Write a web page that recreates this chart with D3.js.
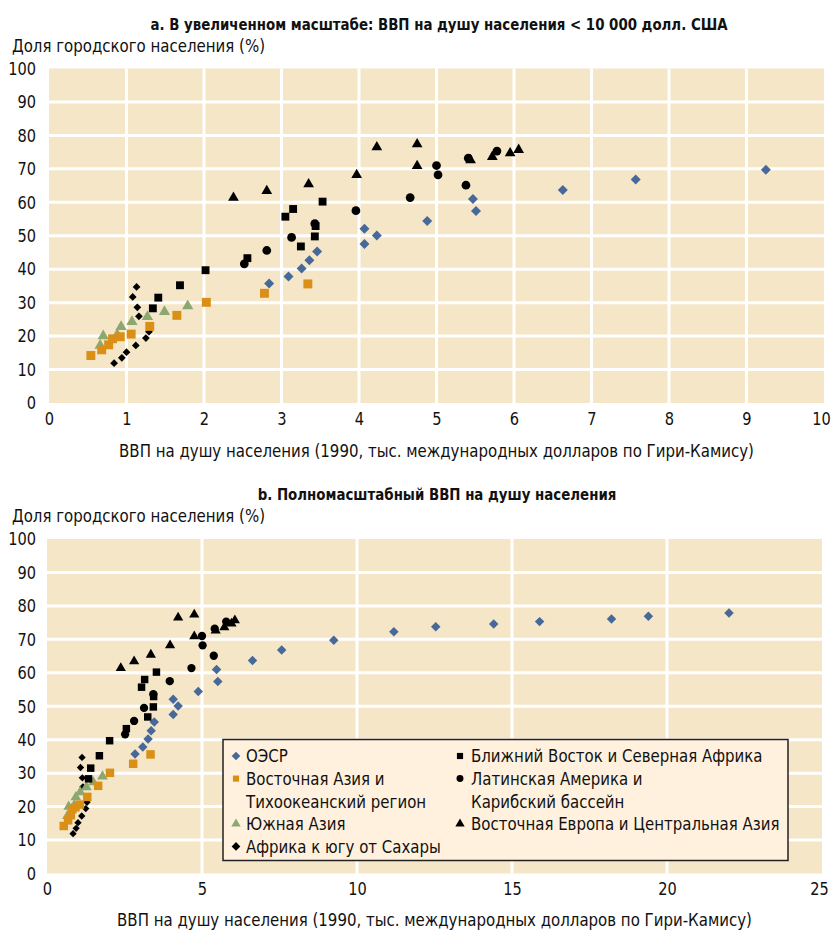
<!DOCTYPE html>
<html><head><meta charset="utf-8">
<script src="https://cdn.jsdelivr.net/npm/d3@7"></script>
<style>
body{margin:0;background:#fff}
text{font-family:"Liberation Sans Narrow","DejaVu Sans Condensed","Arial Narrow",sans-serif;fill:#111}
</style>
</head><body>
<svg id="c" width="834" height="930"></svg>
<script>
// ---- data ----
const seriesNames = ["ОЭСР","Восточная Азия и Тихоокеанский регион","Южная Азия","Африка к югу от Сахары",
  "Ближний Восток и Северная Африка","Латинская Америка и Карибский бассейн","Восточная Европа и Центральная Азия"];
const oecdGdp   = [2.84,3.09,3.26,3.36,3.46,4.07,4.07,4.23,4.88,5.47,5.51,6.63,7.57,9.25,11.19,12.54,14.41,15.89,18.21,19.40,22.0];
const oecdUrban = [35.7,37.8,40.2,42.7,45.3,47.5,52.1,50.1,54.4,61.0,57.4,63.7,66.8,69.7,72.3,73.8,74.6,75.3,76.1,76.9,77.9];
const eapGdp    = [0.54,0.68,0.77,0.82,0.92,1.06,1.30,1.65,2.03,2.78,3.34];
const eapUrban  = [14.2,15.9,17.4,19.2,19.8,20.6,22.9,26.2,30.1,32.8,35.6];
const sasGdp    = [0.66,0.70,0.88,0.93,1.07,1.27,1.49,1.79];
const sasUrban  = [17.2,20.0,20.4,22.8,24.3,25.8,27.3,29.0];
const ssaGdp    = [0.84,0.94,1.00,1.12,1.25,1.29,1.16,1.14,1.08,1.13];
const ssaUrban  = [11.9,13.5,15.2,17.2,19.4,21.3,25.9,28.6,31.7,34.7];
const menaGdp   = [1.34,1.41,1.69,2.02,2.56,3.05,3.15,3.53,3.25,3.43,3.44];
const menaUrban = [28.3,31.5,35.2,39.7,43.3,55.7,58.0,60.2,46.8,49.8,52.9];
const lacGdp    = [2.52,2.81,3.13,3.43,3.96,4.66,5.02,5.00,5.38,5.41,5.78];
const lacUrban  = [41.6,45.6,49.5,53.6,57.5,61.4,68.2,71.0,65.1,73.2,75.3];
const ecaGdp    = [2.38,2.81,3.35,3.97,4.23,4.75,4.75,5.44,5.72,5.95,6.06];
const ecaUrban  = [61.4,63.4,65.4,68.2,76.5,77.4,70.9,72.6,73.6,74.7,75.7];
const yTicks    = [0,10,20,30,40,50,60,70,80,90,100];
const xTicksA   = [0,1,2,3,4,5,6,7,8,9,10];
const xTicksB   = [0,5,10,15,20,25];
const legendLeft  = [["ОЭСР"],["Восточная Азия и","Тихоокеанский регион"],["Южная Азия"],["Африка к югу от Сахары"]];
const legendRight = [["Ближний Восток и Северная Африка"],["Латинская Америка и","Карибский бассейн"],["Восточная Европа и Центральная Азия"]];
const yTitle = "Доля городского населения (%)";
const xTitle = "ВВП на душу населения (1990, тыс. международных долларов по Гири-Камису)";
const titleA = "a. В увеличенном масштабе: ВВП на душу населения < 10 000 долл. США";
const titleB = "b. Полномасштабный ВВП на душу населения";

// ---- styles ----
const series = [
  {x:oecdGdp, y:oecdUrban, sym:"diamond", color:"#46699A", size:50},
  {x:ssaGdp,  y:ssaUrban,  sym:"diamond", color:"#000",    size:30},
  {x:sasGdp,  y:sasUrban,  sym:d3.symbolTriangle, color:"#8BA870", size:55},
  {x:eapGdp,  y:eapUrban,  sym:d3.symbolSquare,   color:"#DA8F17", size:80},
  {x:menaGdp, y:menaUrban, sym:d3.symbolSquare,   color:"#000", size:62},
  {x:lacGdp,  y:lacUrban,  sym:d3.symbolCircle,   color:"#000", size:60},
  {x:ecaGdp,  y:ecaUrban,  sym:d3.symbolTriangle, color:"#000", size:50}
];
const legendSeriesLeft = [0,3,2,1];
const legendSeriesRight = [4,5,6];

const svg = d3.select("#c");

function symPath(s, size){
  if (s.sym === "diamond") return d3.symbol(d3.symbolSquare, size)();
  return d3.symbol(s.sym, size)();
}
function symRot(s){ return s.sym === "diamond" ? " rotate(45)" : ""; }

function panel(cfg){
  const g = svg.append("g");
  const x = d3.scaleLinear().domain([0, cfg.xMax]).range([cfg.x0, cfg.x1]);
  const y = d3.scaleLinear().domain([0, 100]).range([cfg.yBot, cfg.yTop]);
  g.append("rect").attr("x", cfg.x0).attr("y", cfg.yTop)
    .attr("width", cfg.x1 - cfg.x0).attr("height", cfg.yBot - cfg.yTop).attr("fill", "#F5E6C8");
  g.selectAll("line.v").data(cfg.xTicks.slice(1, -1)).join("line")
    .attr("x1", d => x(d)).attr("x2", d => x(d)).attr("y1", cfg.yTop).attr("y2", cfg.yBot)
    .attr("stroke", "#fff").attr("stroke-width", 3);
  g.selectAll("line.h").data(yTicks.slice(1, -1)).join("line")
    .attr("y1", d => y(d)).attr("y2", d => y(d)).attr("x1", cfg.x0).attr("x2", cfg.x1)
    .attr("stroke", "#fff").attr("stroke-width", 3);
  const ya = g.append("g").attr("transform", `translate(${cfg.x0},0)`)
    .call(d3.axisLeft(y).tickValues(yTicks).tickSize(0).tickPadding(12));
  const xa = g.append("g").attr("transform", `translate(0,${cfg.yBot})`)
    .call(d3.axisBottom(x).tickValues(cfg.xTicks).tickSize(0).tickPadding(9));
  [ya, xa].forEach(a => { a.select(".domain").remove(); a.selectAll("text").attr("font-size", 18).attr("font-family", null).attr("fill", "#111"); });
  ya.selectAll("text").attr("x", 36 - cfg.x0);
  // keep the last x label inside the page
  xa.selectAll(".tick").filter(d => d === cfg.xMax).select("text").attr("x", -3);
  g.append("text").attr("x", cfg.titleX).attr("y", cfg.titleY).attr("text-anchor", "middle")
    .attr("font-weight", "bold").attr("font-size", 16.5).text(cfg.title);
  g.append("text").attr("x", 12).attr("y", cfg.yTitleY).attr("font-size", 18.5).text(yTitle);
  g.append("text").attr("x", (cfg.x0 + cfg.x1) / 2).attr("y", cfg.xTitleY).attr("text-anchor", "middle")
    .attr("font-size", 18.5).text(xTitle);
  series.forEach(s => {
    const pts = s.x.map((v, i) => [v, s.y[i]]).filter(p => p[0] <= cfg.xMax);
    g.append("g").selectAll("path").data(pts).join("path")
      .attr("d", symPath(s, s.size * cfg.scale))
      .attr("transform", p => `translate(${x(p[0])},${y(p[1])})` + symRot(s))
      .attr("fill", s.color);
  });
  return {g, x, y};
}

panel({x0:49, x1:824, yTop:68.5, yBot:403, xMax:10, xTicks:xTicksA, title:titleA, titleX:439,
  titleY:30, yTitleY:52, xTitleY:457, scale:1});
panel({x0:47, x1:822, yTop:539, yBot:873.5, xMax:25, xTicks:xTicksB, title:titleB, titleX:437,
  titleY:500, yTitleY:522, xTitleY:926, scale:0.9});

// legend
const lg = svg.append("g");
lg.append("rect").attr("x", 223).attr("y", 739.5).attr("width", 565).attr("height", 121)
  .attr("fill", "#FFF1DE").attr("stroke", "#222").attr("stroke-width", 1.5);
function legendCol(items, idxs, mx, tx){
  let row = 0;
  items.forEach((lines, k) => {
    const s = series[idxs[k]];
    const cy = 756 + row * 22.6;
    lg.append("path").attr("d", symPath(s, 38))
      .attr("transform", `translate(${mx},${cy})` + symRot(s)).attr("fill", s.color);
    lines.forEach((t, j) => {
      lg.append("text").attr("x", tx).attr("y", cy + j * 22.6).attr("dy", "0.35em")
        .attr("font-size", 18.5).text(t);
    });
    row += lines.length;
  });
}
legendCol(legendLeft, legendSeriesLeft, 236, 246);
legendCol(legendRight, legendSeriesRight, 460, 471);

// condense text horizontally to mimic the narrow typeface of the original
svg.selectAll("text").each(function(){
  const w = this.getComputedTextLength();
  this.setAttribute("textLength", (w * 0.9).toFixed(1));
  this.setAttribute("lengthAdjust", "spacingAndGlyphs");
});
</script>
</body></html>
